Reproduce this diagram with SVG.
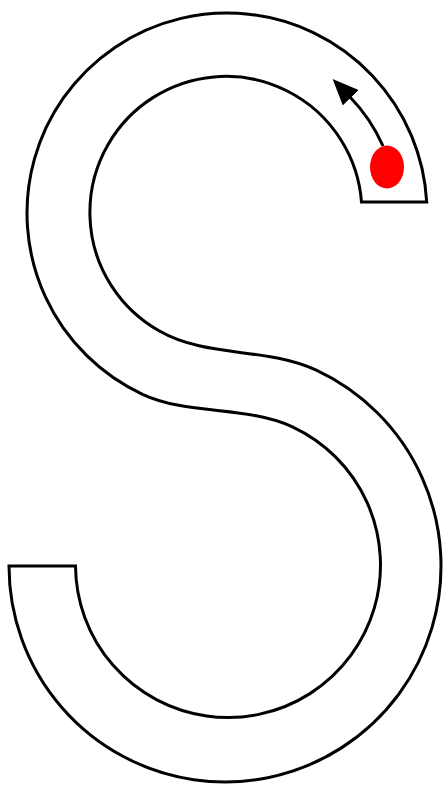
<svg xmlns="http://www.w3.org/2000/svg" width="443" height="785" viewBox="0 0 443 785">
  <style>
    .track { fill: #ffffff; stroke: #000000; stroke-width: 3; stroke-linejoin: miter; }
    .arrow { fill: none; stroke: #000000; stroke-width: 3; }
    .dot { fill: #ff0000; stroke: none; }
  </style>
  <defs>
    <marker id="head" markerUnits="userSpaceOnUse" markerWidth="26" markerHeight="22" viewBox="0 0 26 22" refX="1" refY="11" orient="auto">
      <path d="M0,0 L26,11 L0,22 Z" fill="#000000"/>
    </marker>
  </defs>
  <rect x="0" y="0" width="443" height="785" fill="#ffffff"/>
  <g id="s-track">
    <path class="track" d="M 361.5 202 L 426.7 202 A 200 200 0 1 0 142.5 394.3 C 187.8 415.4 247.1 405.7 292.4 426.8 A 152.5 152.5 0 1 1 75.5 566 L 9 566 A 216 216 0 1 0 316.3 370.2 C 266.5 346.9 206.6 358.3 159 330.8 A 136 136 0 1 1 361.5 202 Z"/>
  </g>
  <g id="ball">
    <ellipse class="dot" cx="387" cy="167" rx="17" ry="21.5"/>
  </g>
  <g id="connectors">
    <path class="arrow" d="M 383 146 A 168 168 0 0 0 350 97" marker-end="url(#head)"/>
  </g>
</svg>
